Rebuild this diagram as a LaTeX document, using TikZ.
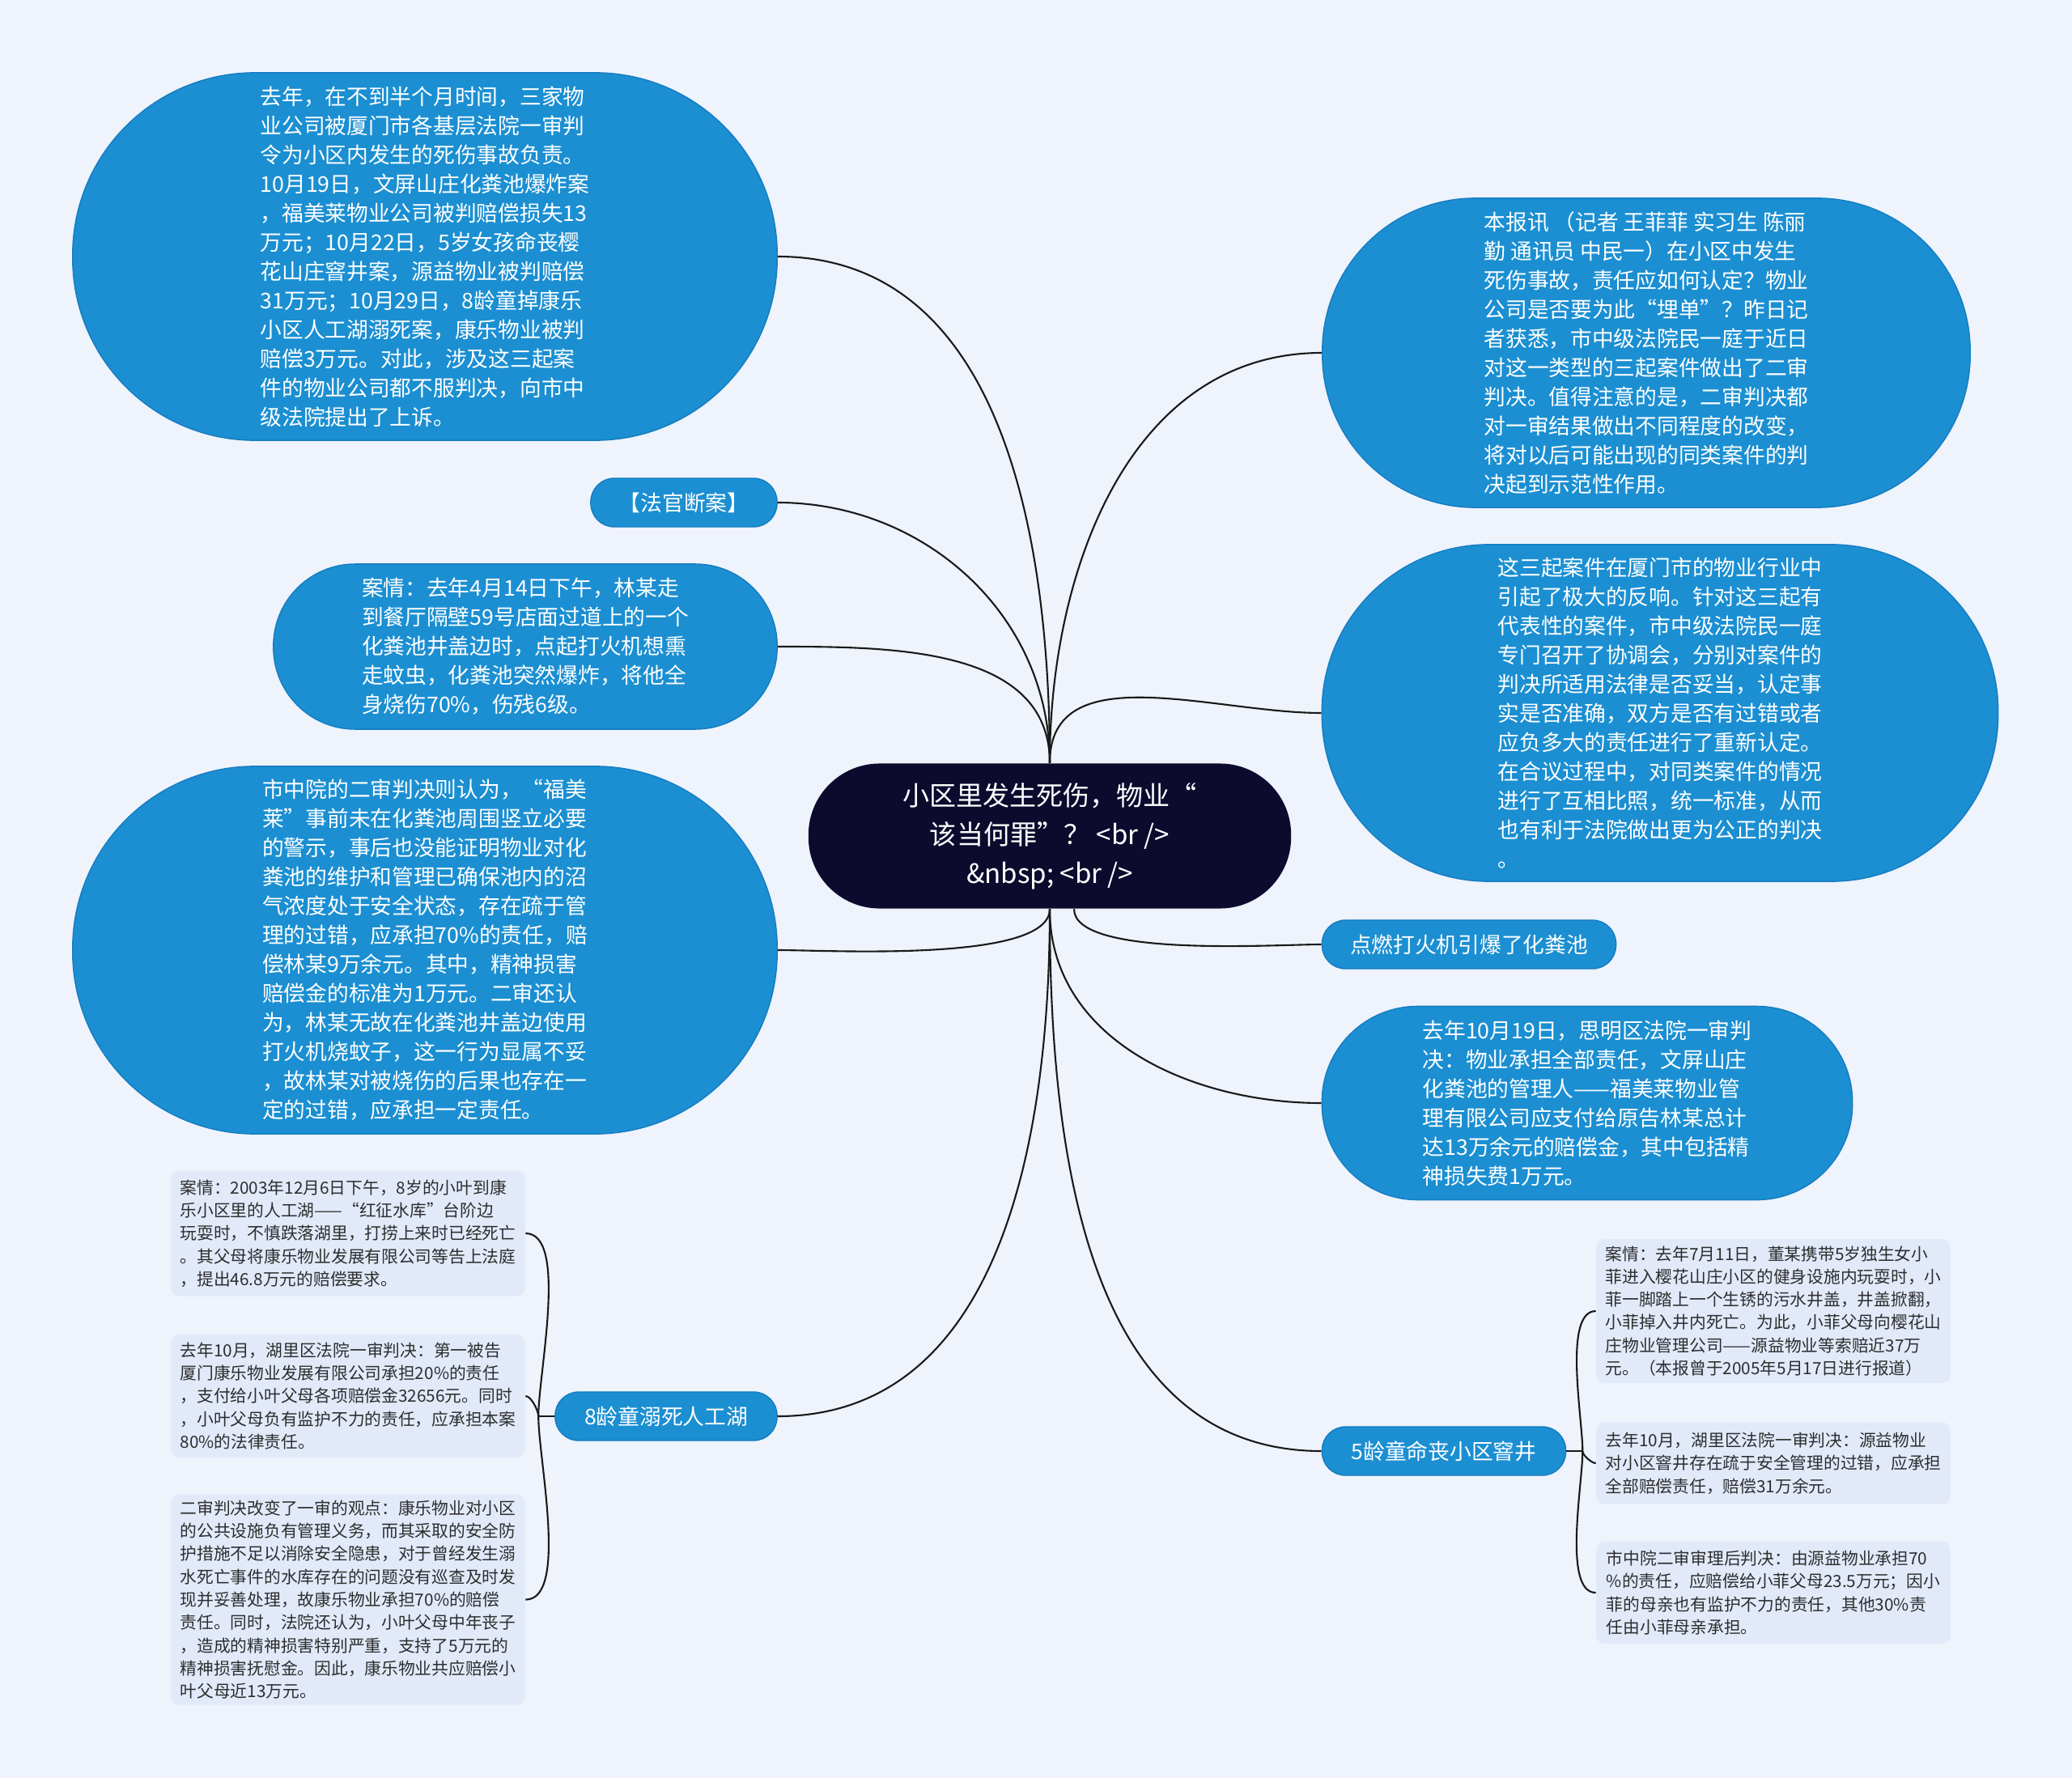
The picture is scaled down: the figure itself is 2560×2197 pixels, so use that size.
\documentclass[tikz,border=0pt]{standalone}
\usepackage{fontspec}
\newfontfamily\cjk{Noto Sans CJK SC}
\usetikzlibrary{positioning,backgrounds}
\definecolor{mapPaper}{RGB}{238,243,252}
\definecolor{mapNavy}{RGB}{12,11,46}
\definecolor{mapBlue}{RGB}{27,143,210}
\definecolor{mapEdge}{RGB}{22,124,192}
\definecolor{mapPale}{RGB}{226,234,250}
\definecolor{mapInk}{RGB}{45,45,45}
\definecolor{mapLine}{RGB}{25,25,25}

\begin{document}
\begin{tikzpicture}[x=0.01cm,y=-0.01cm]
  \tikzset{
    hub/.style={rectangle,rounded corners=0.88cm,fill=mapNavy,text=white,minimum width=5.96cm,minimum height=1.79cm,align=center,inner sep=0pt,font=\cjk\fontsize{9.4}{13.7}\selectfont},
    bubble/.style={rectangle,fill=mapBlue,draw=mapEdge,line width=0.4pt,text=white,align=left,inner sep=0pt,font=\cjk\fontsize{7.6}{10.24}\selectfont},
    tag/.style={rectangle,rounded corners=0.29cm,fill=mapBlue,draw=mapEdge,line width=0.4pt,text=white,inner sep=0pt,minimum height=0.6cm,font=\cjk\fontsize{7.6}{10.24}\selectfont},
    note/.style={rectangle,rounded corners=0.1cm,fill=mapPale,text=mapInk,align=left,minimum width=4.37cm,inner sep=0pt,font=\cjk\fontsize{5.9}{8.05}\selectfont},
    link/.style={draw=mapLine,line width=0.6pt}
  }
  \useasboundingbox (0,0) rectangle (2560,2197);
  \begin{scope}[on background layer]
    \fill[mapPaper] (0,0) rectangle (2560,2197);
  \end{scope}

  \node[hub] (hub) at (1297,1033) {小区里发生死伤，物业“\\该当何罪”？ <br />\\\&nbsp; <br />};

  % left side
  \node[bubble,minimum width=8.7cm,minimum height=4.54cm,rounded corners=2.25cm] (yearsum) at (525,317) {去年，在不到半个月时间，三家物\\业公司被厦门市各基层法院一审判\\令为小区内发生的死伤事故负责。\\10月19日，文屏山庄化粪池爆炸案\\，福美莱物业公司被判赔偿损失13\\万元；10月22日，5岁女孩命丧樱\\花山庄窨井案，源益物业被判赔偿\\31万元；10月29日，8龄童掉康乐\\小区人工湖溺死案，康乐物业被判\\赔偿3万元。对此，涉及这三起案\\件的物业公司都不服判决，向市中\\级法院提出了上诉。};
  \node[tag,minimum width=2.3cm] (judgetag) at (845,621) {【法官断案】};
  \node[bubble,minimum width=6.22cm,minimum height=2.04cm,rounded corners=1.01cm] (casefire) at (649,799) {案情：去年4月14日下午，林某走\\到餐厅隔壁59号店面过道上的一个\\化粪池井盖边时，点起打火机想熏\\走蚊虫，化粪池突然爆炸，将他全\\身烧伤70\%，伤残6级。};
  \node[bubble,minimum width=8.7cm,minimum height=4.54cm,rounded corners=2.25cm] (appealfire) at (525,1174) {市中院的二审判决则认为，“福美\\莱”事前未在化粪池周围竖立必要\\的警示，事后也没能证明物业对化\\粪池的维护和管理已确保池内的沼\\气浓度处于安全状态，存在疏于管\\理的过错，应承担70\%的责任，赔\\偿林某9万余元。其中，精神损害\\赔偿金的标准为1万元。二审还认\\为，林某无故在化粪池井盖边使用\\打火机烧蚊子，这一行为显属不妥\\，故林某对被烧伤的后果也存在一\\定的过错，应承担一定责任。};
  \node[tag,minimum width=2.74cm] (drown) at (823,1750) {8龄童溺死人工湖};
  \node[note,minimum height=1.55cm] (lcase) at (430,1524) {案情：2003年12月6日下午，8岁的小叶到康\\乐小区里的人工湖——“红征水库”台阶边\\玩耍时，不慎跌落湖里，打捞上来时已经死亡\\。其父母将康乐物业发展有限公司等告上法庭\\，提出46.8万元的赔偿要求。};
  \node[note,minimum height=1.52cm,below=0.46cm of lcase] (ljudge) {去年10月，湖里区法院一审判决：第一被告\\厦门康乐物业发展有限公司承担20\%的责任\\，支付给小叶父母各项赔偿金32656元。同时\\，小叶父母负有监护不力的责任，应承担本案\\80\%的法律责任。};
  \node[note,minimum height=2.6cm,below=0.44cm of ljudge] (lappeal) {二审判决改变了一审的观点：康乐物业对小区\\的公共设施负有管理义务，而其采取的安全防\\护措施不足以消除安全隐患，对于曾经发生溺\\水死亡事件的水库存在的问题没有巡查及时发\\现并妥善处理，故康乐物业承担70\%的赔偿\\责任。同时，法院还认为，小叶父母中年丧子\\，造成的精神损害特别严重，支持了5万元的\\精神损害抚慰金。因此，康乐物业共应赔偿小\\叶父母近13万元。};

  % right side
  \node[bubble,minimum width=8cm,minimum height=3.82cm,rounded corners=1.89cm] (report) at (2034,436) {本报讯 （记者 王菲菲 实习生 陈丽\\勤 通讯员 中民一）在小区中发生\\死伤事故，责任应如何认定？物业\\公司是否要为此“埋单”？昨日记\\者获悉，市中级法院民一庭于近日\\对这一类型的三起案件做出了二审\\判决。值得注意的是，二审判决都\\对一审结果做出不同程度的改变，\\将对以后可能出现的同类案件的判\\决起到示范性作用。};
  \node[bubble,minimum width=8.35cm,minimum height=4.16cm,rounded corners=2.06cm] (reaction) at (2051,881) {这三起案件在厦门市的物业行业中\\引起了极大的反响。针对这三起有\\代表性的案件，市中级法院民一庭\\专门召开了协调会，分别对案件的\\判决所适用法律是否妥当，认定事\\实是否准确，双方是否有过错或者\\应负多大的责任进行了重新认定。\\在合议过程中，对同类案件的情况\\进行了互相比照，统一标准，从而\\也有利于法院做出更为公正的判决\\。};
  \node[tag,minimum width=3.63cm] (ignite) at (1815,1167) {点燃打火机引爆了化粪池};
  \node[bubble,minimum width=6.55cm,minimum height=2.39cm,rounded corners=1.18cm] (firstfire) at (1961,1363) {去年10月19日，思明区法院一审判\\决：物业承担全部责任，文屏山庄\\化粪池的管理人——福美莱物业管\\理有限公司应支付给原告林某总计\\达13万余元的赔偿金，其中包括精\\神损失费1万元。};
  \node[tag,minimum width=3.01cm] (well) at (1784,1793) {5龄童命丧小区窨井};
  \node[note,minimum height=1.78cm] (rcase) at (2191,1620) {案情：去年7月11日，董某携带5岁独生女小\\菲进入樱花山庄小区的健身设施内玩耍时，小\\菲一脚踏上一个生锈的污水井盖，井盖掀翻，\\小菲掉入井内死亡。为此，小菲父母向樱花山\\庄物业管理公司——源益物业等索赔近37万\\元。（本报曾于2005年5月17日进行报道）};
  \node[note,minimum height=1.01cm,below=0.47cm of rcase] (rjudge) {去年10月，湖里区法院一审判决：源益物业\\对小区窨井存在疏于安全管理的过错，应承担\\全部赔偿责任，赔偿31万余元。};
  \node[note,minimum height=1.26cm,below=0.45cm of rjudge] (rappeal) {市中院二审审理后判决：由源益物业承担70\\\%的责任，应赔偿给小菲父母23.5万元；因小\\菲的母亲也有监护不力的责任，其他30\%责\\任由小菲母亲承担。};

  \coordinate[left=0.2cm of drown.west] (lfork);
  \coordinate[right=0.2cm of well.east] (rfork);

  \begin{scope}[on background layer]
    \foreach \n in {yearsum,judgetag,casefire} \draw[link] (hub.north) to[out=90,in=0] (\n.east);
    \foreach \n in {report,reaction} \draw[link] (hub.north) to[out=90,in=180] (\n.west);
    \draw[link] (hub.south) to[out=-90,in=0,looseness=0.5] (appealfire.east);
    \draw[link] (hub.south) to[out=-90,in=0] (drown.east);
    \draw[link] ([xshift=0.3cm]hub.south) to[out=-90,in=180,looseness=0.5] (ignite.west);
    \foreach \n in {firstfire,well} \draw[link] (hub.south) to[out=-90,in=180] (\n.west);
  \end{scope}
  \draw[link] (drown.west) -- (lfork);
  \foreach \n/\a in {lcase/90,ljudge/90,lappeal/-90} \draw[link] (lfork) to[out=\a,in=0,looseness=0.6] (\n.east);
  \draw[link] (well.east) -- (rfork);
  \foreach \n/\a in {rcase/90,rjudge/-90,rappeal/-90} \draw[link] (rfork) to[out=\a,in=180,looseness=0.6] (\n.west);
\end{tikzpicture}
\end{document}
